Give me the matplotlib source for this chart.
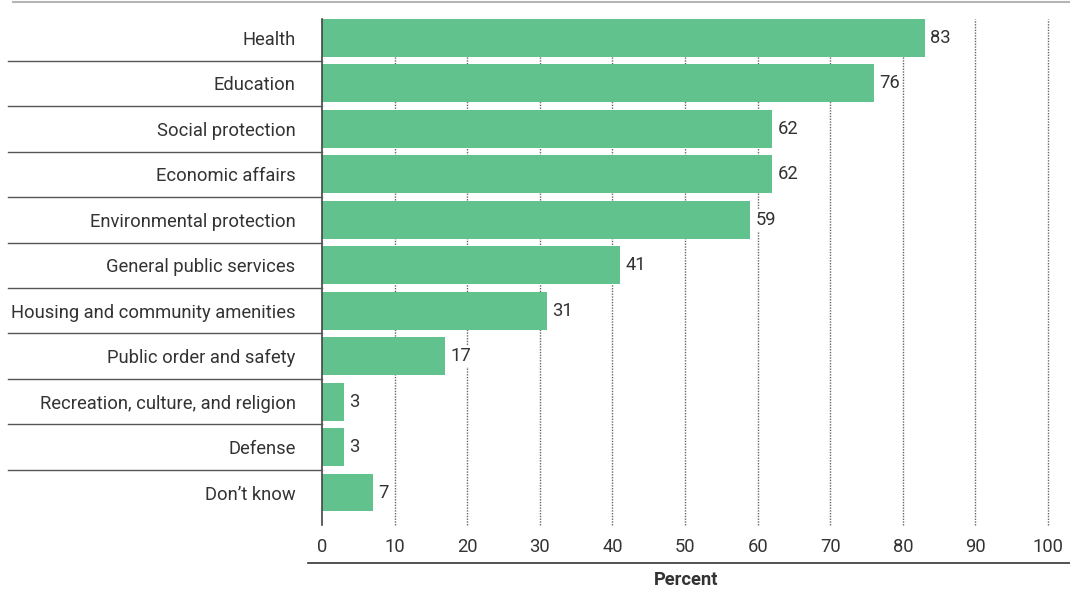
import matplotlib.pyplot as plt
from matplotlib.lines import Line2D

plt.rcParams["font.family"] = ["Roboto", "DejaVu Sans"]

categories = [
    "Health",
    "Education",
    "Social protection",
    "Economic affairs",
    "Environmental protection",
    "General public services",
    "Housing and community amenities",
    "Public order and safety",
    "Recreation, culture, and religion",
    "Defense",
    "Don\u2019t know",
]
values = [83, 76, 62, 62, 59, 41, 31, 17, 3, 3, 7]
xticks = [0, 10, 20, 30, 40, 50, 60, 70, 80, 90, 100]

bar_color = "#62c28e"
text_color = "#333333"
fs = 13.2

fig = plt.figure(figsize=(10.7, 5.93), dpi=100)
ax = fig.add_axes([322 / 1070, 1 - 525 / 593, 726 / 1070, 506 / 593])

ypos = list(range(len(categories)))
ax.barh(ypos, values, height=0.835, color=bar_color, zorder=2)

for y, v in zip(ypos, values):
    ax.text(v + 0.75, y, str(v), va="center", ha="left", fontsize=fs, color=text_color,
            zorder=3, bbox=dict(facecolor="white", edgecolor="none", pad=1.5))

ax.set_xlim(0, 100)
ax.set_ylim(10.715, -0.418)
ax.set_xticks(xticks)
ax.set_xticklabels([str(t) for t in xticks], fontsize=fs, color=text_color)
ax.tick_params(axis="x", length=0, pad=9)
ax.set_yticks(ypos)
ax.set_yticklabels(categories, fontsize=fs, color=text_color)
ax.tick_params(axis="y", length=0, pad=19)

for t in xticks[1:]:
    ax.axvline(t, color="#666666", lw=1, ls=(0, (1, 1)), zorder=1, clip_on=False)

for s in ["top", "right", "bottom"]:
    ax.spines[s].set_visible(False)
ax.spines["left"].set_color("#444444")
ax.spines["left"].set_linewidth(1.2)

# separators between category rows, reaching into the label area
for i in range(len(categories) - 1):
    ax.plot([-43.3, 0], [i + 0.5, i + 0.5], color="#555555", lw=1,
            clip_on=False, zorder=3)

# figure rules at top and below the tick labels
fig.add_artist(Line2D([13 / 1070, 1], [1 - 2 / 593] * 2, color="#b5b5b8", lw=1.5))
fig.add_artist(Line2D([308 / 1070, 1], [1 - 563 / 593] * 2, color="#333333", lw=1.2))

fig.text(686 / 1070, 1 - 580 / 593, "Percent", ha="center", va="center",
         fontsize=fs, fontweight="bold", color=text_color)

fig.savefig("out.png", dpi=100)
